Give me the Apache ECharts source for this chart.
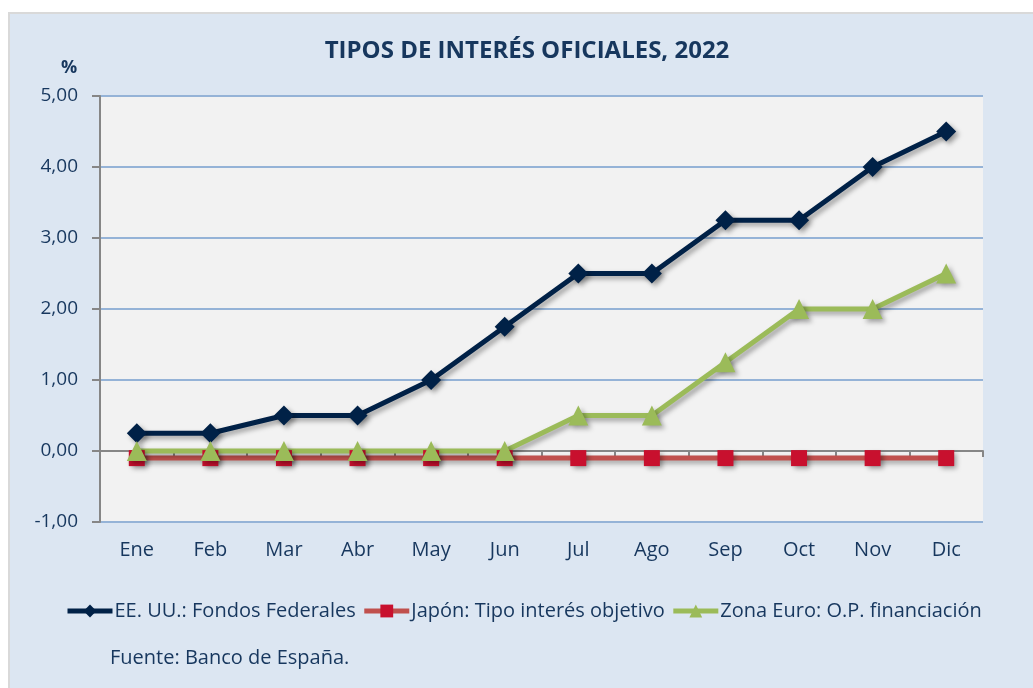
<!DOCTYPE html>
<html>
<head>
<meta charset="utf-8">
<script src="https://cdn.jsdelivr.net/npm/echarts@6/dist/echarts.min.js"></script>
<style>
	html, body { margin: 0; padding: 0; background: #ffffff; }
	#frame {
		position: absolute; left: 8px; top: 12px; width: 1025px; height: 676px;
		background: #dce6f2; border-left: 2px solid #d9d9d9; border-top: 2px solid #d9d9d9;
		box-sizing: border-box;
	}
	#cn { position: absolute; left: 0; top: 0; width: 1033px; height: 688px; }
</style>
</head>
<body>
<div id="frame"></div>
<div id="cn"></div>
<script>
'use strict';

const MESES = ['Ene', 'Feb', 'Mar', 'Abr', 'May', 'Jun', 'Jul', 'Ago', 'Sep', 'Oct', 'Nov', 'Dic'];
const EEUU = [0.25, 0.25, 0.5, 0.5, 1.0, 1.75, 2.5, 2.5, 3.25, 3.25, 4.0, 4.5];
const JAPON = [-0.1, -0.1, -0.1, -0.1, -0.1, -0.1, -0.1, -0.1, -0.1, -0.1, -0.1, -0.1];
const ZONA_EURO = [0, 0, 0, 0, 0, 0, 0.5, 0.5, 1.25, 2.0, 2.0, 2.5];
const NOMBRES = ['EE. UU.: Fondos Federales', 'Japón: Tipo interés objetivo', 'Zona Euro: O.P. financiación'];

const FONT = 'Open Sans';
const NAVY = '#17375e';

const fmt = v => v.toFixed(2).replace('.', ',');

const shadow = {
	shadowColor: 'rgba(0,0,0,0.35)',
	shadowBlur: 5,
	shadowOffsetX: 3,
	shadowOffsetY: 3
};

const mkSerie = (name, data, color, symbolColor, symbol, size) => ({
	name: name,
	type: 'line',
	data: data,
	symbol: symbol,
	symbolSize: size,
	z: 3,
	lineStyle: Object.assign({ color: color, width: 5 }, shadow),
	itemStyle: Object.assign({ color: symbolColor }, shadow)
});

let chart = echarts.init(document.getElementById('cn'), null, { renderer: 'canvas' });

let option = {
	backgroundColor: 'transparent',
	animation: false,
	textStyle: { fontFamily: FONT, color: NAVY },
	title: [{
		text: 'TIPOS DE INTERÉS OFICIALES, 2022',
		left: 522,
		textAlign: 'center',
		top: 34,
		textStyle: { fontFamily: FONT, fontSize: 24, fontWeight: 'bold', color: NAVY }
	}, {
		text: '%',
		left: 64,
		textAlign: 'center',
		top: 54,
		textStyle: { fontFamily: FONT, fontSize: 18, fontWeight: 'bold', color: NAVY }
	}, {
		text: 'Fuente: Banco de España.',
		left: 105,
		top: 643,
		textStyle: { fontFamily: FONT, fontSize: 20, fontWeight: 'normal', color: NAVY }
	}],
	grid: {
		left: 100,
		right: 50,
		top: 96,
		bottom: 166,
		show: true,
		backgroundColor: '#f2f2f2',
		borderWidth: 0
	},
	legend: {
		left: 60,
		top: 596,
		itemWidth: 45,
		itemHeight: 16,
		itemGap: 6,
		textStyle: { fontFamily: FONT, fontSize: 20, color: NAVY, padding: [0, 0, 0, -3] },
		data: NOMBRES.map(n => ({ name: n, lineStyle: { width: 5 } }))
	},
	xAxis: {
		type: 'category',
		data: MESES,
		boundaryGap: true,
		axisLine: { show: true, onZero: true, lineStyle: { color: '#868686', width: 2 } },
		axisTick: { show: true, length: 6, lineStyle: { color: '#868686', width: 2 } },
		axisLabel: { fontFamily: FONT, fontSize: 20, color: NAVY, margin: 18, verticalAlign: 'top' },
		splitLine: { show: false }
	},
	yAxis: {
		type: 'value',
		min: -1,
		max: 5,
		interval: 1,
		axisLine: { show: true, lineStyle: { color: '#868686', width: 2 } },
		axisTick: { show: true, length: 8, lineStyle: { color: '#868686', width: 2 } },
		axisLabel: { fontFamily: FONT, fontSize: 19, color: NAVY, margin: 22, formatter: fmt },
		splitLine: { show: true, lineStyle: { color: '#95b3d7', width: 2 } }
	},
	series: [
		mkSerie(NOMBRES[0], EEUU, '#002147', '#002147', 'diamond', 20),
		mkSerie(NOMBRES[1], JAPON, '#c0504d', '#c8102e', 'rect', 16),
		mkSerie(NOMBRES[2], ZONA_EURO, '#9bbb59', '#9bbb59', 'triangle', 20)
	]
};

chart.setOption(option);
</script>
</body>
</html>
